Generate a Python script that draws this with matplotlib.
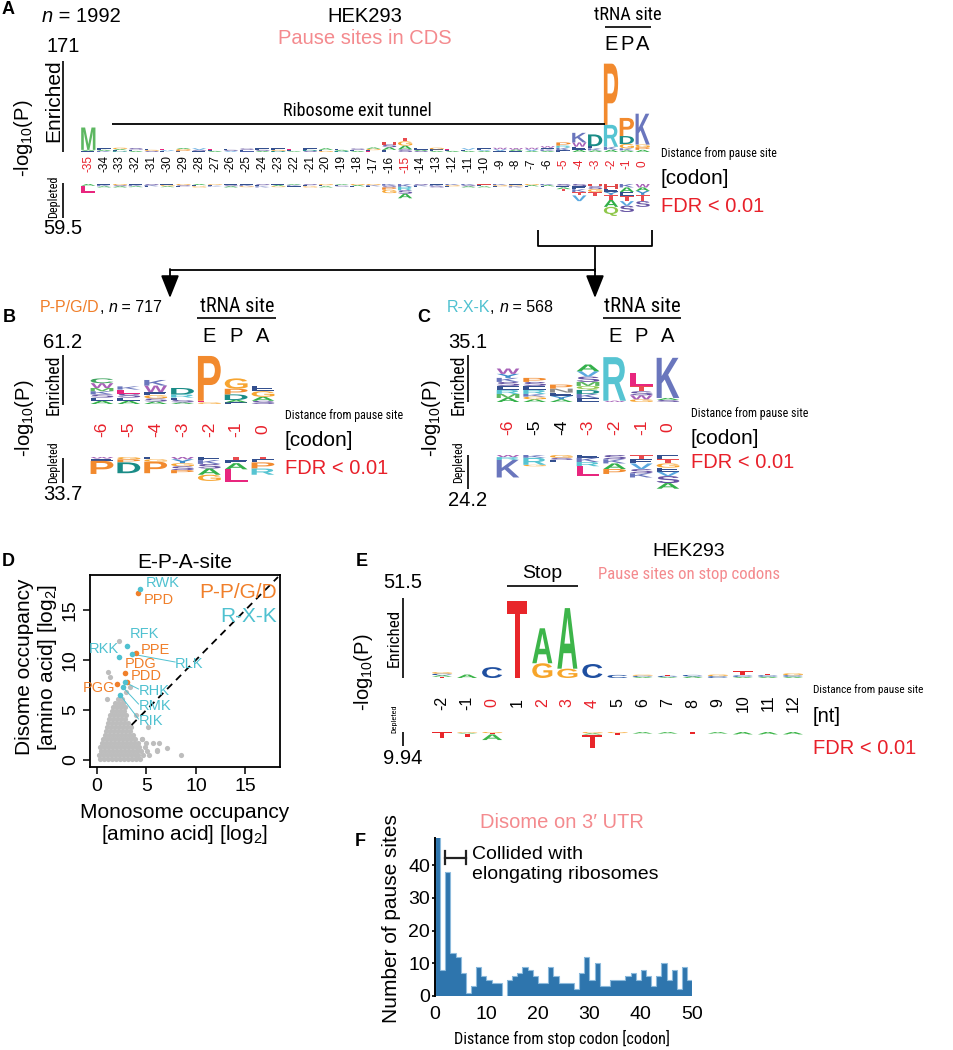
import matplotlib
matplotlib.use('Agg')
import numpy as np
import matplotlib.pyplot as plt
from matplotlib.textpath import TextPath
from matplotlib.patches import PathPatch
from matplotlib.font_manager import FontProperties, fontManager
from matplotlib.transforms import Affine2D, blended_transform_factory

# ======================= DATA =======================
# ---- Panel A : pause sites in CDS (positions -35..0) ----
A_POS = list(range(-35, 1))
A_ENR_LET = ["MAE", "EAK", "GAED", "SEA", "EGS", "LVE", "AGPE", "VSE", "LEA", "ESV", "SEI", "ESA",
             "EGD", "LEA", "EDS", "AEG", "EAD", "SEA", "AGEL", "HSAE", "TGAS", "EAS", "GEA", "LEA",
             "VEA", "EVA", "WVE", "WAE", "WVA", "WEKA", "PRKE", "KWEA", "DEKA", "PRKA", "PDGKA", "KGPA"]
A_ENR_H = [[42, 2, 2], [3, 2, 2], [2.5, 2, 2, 1.5], [3, 2.5, 2], [2.5, 2, 2], [2.5, 2, 1.5],
           [2, 2, 2, 1.5], [3, 2, 2], [2, 2, 2], [2.5, 2, 2], [2.5, 2, 2], [3, 2, 2], [3, 2, 2],
           [2, 2, 1.5], [3, 2, 2], [3, 2, 2], [2, 2, 2], [2.5, 2, 2], [2.5, 2.5, 2, 1.5], [5, 5, 5, 4],
           [7, 8, 7, 5], [3, 2.5, 2], [3, 3, 2], [2.5, 2, 2], [3, 2, 2], [3, 2, 2], [3, 3, 2],
           [3, 2.5, 2], [3, 3, 2], [3, 3, 3, 2], [6, 4, 5, 3], [18, 8, 6, 4], [22, 4, 4, 3],
           [115, 41, 6, 4], [34, 15, 8, 4, 3], [58, 5, 5, 4]]
A_DEP_LET = ["AL", "EKA", "GSA", "EKA", "SKE", "EGA", "GSE", "AEG", "GEK", "ESA", "EKG", "SEK",
             "EAG", "AKE", "SEG", "GEA", "AES", "GAE", "GKE", "KSPG", "KRSA", "SKE", "EKS", "KGE",
             "KSA", "HEA", "KGE", "EGK", "GAE", "KAE", "SEAT", "SEKTV", "HSGT", "HEYTAQ", "KAETVS", "WAYTS"]
A_DEP_H = [[3, 12], [2, 2, 2], [2, 2, 2], [2, 2, 1.5], [2, 2, 2], [2, 2, 1.5], [2, 2, 2], [2, 2, 2],
           [1.5, 1.5, 1.5], [2, 2, 2], [2, 2, 1.5], [2, 2, 2], [2, 2, 1.5], [1.5, 1.5, 1.5], [2, 2, 2],
           [2, 2, 2], [1.5, 1.5, 1.5], [2, 2, 1.5], [2, 2, 2], [3, 3, 4, 6], [5, 6, 6, 8], [2, 2, 2],
           [2, 2, 2], [2, 2, 1.5], [2, 2, 2], [2, 2, 2], [2, 2, 1.5], [2, 2, 2], [2, 2, 2], [2, 2, 2],
           [3, 3, 3, 3], [4, 5, 5, 6, 10], [4, 5, 5, 7], [8, 6, 5, 9, 12, 16], [6, 8, 7, 9, 8, 11],
           [6, 6, 7, 11, 10]]
A_RED_TICKS = [-35, -15, -5, -4, -3, -2, -1, 0]
A_YMAX, A_YMIN = 171, 59.5

# ---- Panel B : P-P/G/D ----
B_POS = list(range(-6, 1))
B_ENR_LET = ["CWMKSEA", "KLSEA", "KWEGSA", "DRESA", "PLG", "GPDAE", "EGAS"]
B_ENR_H = [[6, 6, 4, 4, 4, 4, 4], [4, 5, 5, 4, 4], [7, 8, 4, 4, 4, 3], [8, 4, 3, 3, 2], [56, 2, 2],
           [13, 7, 7, 3, 2], [7, 7, 5, 4]]
B_DEP_LET = ["WEP", "GPD", "EGP", "WYGSP", "EKSAG", "TEAL", "TEPR"]
B_DEP_H = [[2, 3, 17], [3, 4, 14], [3, 3, 15], [3, 5, 4, 5, 4], [4, 5, 6, 8, 8], [4, 4, 8, 17], [3, 4, 8, 8]]
B_RED_TICKS = [-6, -5, -4, -3, -2, -1, 0]
B_YMAX, B_YMIN = 61.2, 33.7

# ---- Panel C : R-X-K ----
C_POS = list(range(-6, 1))
C_ENR_LET = ["WYKSERMA", "PSERKGA", "PNEYA", "AVSMQDKE", "RW", "LTSWG", "KAS"]
C_ENR_H = [[4, 3, 3, 3, 3, 3, 3, 3], [3, 3, 3, 3, 2, 2, 2], [3, 3, 2.5, 2.5, 2], [5, 4, 4, 3, 3, 3, 3, 3],
           [32.5, 1], [10, 4, 3, 3, 2], [30, 1.5, 1.5]]
C_DEP_LET = ["WRK", "KRG", "GSE", "EKRL", "SKAP", "TEVSK", "ETGEVSA"]
C_DEP_H = [[1.5, 2, 12.5], [2, 5, 1], [2, 1.5, 1.5], [2, 3, 3, 7], [3, 3, 4, 3.5], [3, 3, 4, 3, 3],
           [3, 3, 3, 3, 3, 5, 4]]
C_RED_TICKS = [-6, -3, -2, -1, 0]
C_YMAX, C_YMIN = 35.1, 24.2

# ---- Panel D : E-P-A-site occupancy ----
GRAY_ROW_Y = [0.1, 0.5, 0.9, 1.3, 1.7, 2.1, 2.5, 2.9, 3.3, 3.7, 4.1, 4.5, 4.9, 5.3, 5.7, 6.1]
GRAY_ROW_X = [
    [0.3, 0.7, 1.1, 1.5, 1.9, 2.3, 2.7, 3.1, 3.5, 3.9, 4.4],
    [0.2, 0.6, 1.0, 1.4, 1.8, 2.2, 2.6, 3.0, 3.4, 3.8, 4.2, 4.7, 5.3],
    [0.4, 0.8, 1.2, 1.6, 2.0, 2.4, 2.8, 3.2, 3.6, 4.0, 4.5, 5.1, 6.1],
    [0.3, 0.7, 1.1, 1.5, 1.9, 2.3, 2.7, 3.1, 3.5, 3.9, 4.3, 4.9],
    [0.5, 0.9, 1.3, 1.7, 2.1, 2.5, 2.9, 3.3, 3.7, 4.2, 5.0, 5.7, 6.3],
    [0.6, 1.0, 1.4, 1.8, 2.2, 2.6, 3.0, 3.4, 3.8, 4.6],
    [0.8, 1.2, 1.6, 2.0, 2.4, 2.8, 3.2, 3.6],
    [0.9, 1.3, 1.7, 2.1, 2.5, 2.9, 3.3],
    [1.0, 1.4, 1.8, 2.2, 2.6, 3.0, 3.4, 5.2],
    [1.1, 1.5, 1.9, 2.3, 2.7, 3.1],
    [1.2, 1.6, 2.0, 2.4, 2.8],
    [1.3, 1.7, 2.1, 2.5, 2.9, 3.9],
    [1.5, 1.9, 2.3, 2.7],
    [1.6, 2.0, 2.4, 2.8],
    [1.8, 2.2, 2.6],
    [1.0, 2.1, 2.5],
]
GRAY_OUT_X = [2.2, 1.15, 1.3, 3.3, 7.1, 8.5, 6.1, 4.6, 2.9]
GRAY_OUT_Y = [11.9, 8.8, 8.3, 7.3, 1.2, 0.5, 1.0, 2.1, 6.8]
PGD_NAMES = ["PPD", "PPE", "PDG", "PDD", "PGG"]
PGD_MONO = [4.2, 3.9, 2.8, 3.0, 2.0]
PGD_DI = [16.7, 10.7, 8.7, 7.8, 7.6]
RXK_NAMES = ["RWK", "RFK", "RLK", "RKK", "RHK", "RMK", "RIK"]
RXK_MONO = [4.4, 3.0, 3.5, 2.2, 2.8, 2.6, 2.35]
RXK_DI = [17.1, 11.4, 10.6, 10.3, 7.8, 7.3, 6.5]
DIAG = [3.5, 18.3]

# ---- Panel E : stop codons (nt positions -2..12) ----
E_POS = list(range(-2, 13))
E_ENR_LET = ["GCAT", "A", "C", "T", "AG", "AG", "C", "C", "GCA", "TCA", "CA", "GC", "TCA", "TCA", "GCA"]
E_ENR_H = [[1, 1, 1, 0.8], [2.2], [7], [49.5], [22.5, 9.5], [39, 6], [9], [2], [0.7, 0.7, 0.7],
           [0.8, 0.8, 0.6], [1, 1], [1, 1.2], [2.5, 1, 0.7], [1, 1, 0.8], [1.2, 1, 0.8]]
E_DEP_LET = ["T", "GAT", "GTA", "", "", "", "GAT", "GT", "A", "A", "T", "A", "A", "A", "A"]
E_DEP_H = [[3.8], [0.5, 0.5, 2], [0.7, 0.8, 3.5], [], [], [], [0.8, 0.8, 8.3], [0.7, 1.3], [1], [1],
           [1.2], [1], [1.5], [1.5], [1.5]]
E_RED_TICKS = [0, 2, 3, 4]
E_YMAX, E_YMIN = 51.5, 9.94

# ---- Panel F : disome on 3' UTR ----
F_COUNTS = [58, 8, 38, 13, 12, 7, 1, 3, 9, 6, 5, 4, 4, 0, 5, 6, 7, 9, 8, 6, 4, 4, 9, 6, 4, 4, 4, 2, 7, 12,
            5, 10, 3, 3, 5, 5, 5, 6, 7, 5, 8, 6, 3, 6, 10, 5, 8, 2, 9, 5]
F_EDGES = list(range(0, 51))

# ======================= STYLE =======================
W, H = 954, 1050
entries = [(f.name, str(f.stretch)) for f in fontManager.ttflist]
names = {n for n, _ in entries}
SANS = 'Liberation Sans' if 'Liberation Sans' in names else 'DejaVu Sans'

COND_FAM, COND_STRETCH = SANS, 'normal'
_pref = ['Liberation Sans Narrow', 'Roboto Condensed', 'Noto Sans Condensed', 'Open Sans Condensed',
         'Noto Sans ExtraCondensed', 'DejaVu Sans Condensed']
_found = False
for p in _pref:
    if p in names:
        COND_FAM, COND_STRETCH, _found = p, 'normal', True
        break
if not _found:
    for fam in ['Roboto', 'Open Sans', 'Noto Sans', 'Liberation Sans', 'DejaVu Sans']:
        sts = [s for n, s in entries if n == fam]
        hit = [s for s in sts if 'condensed' in s.lower() or (s.isdigit() and int(s) < 500)]
        if hit:
            COND_FAM, COND_STRETCH, _found = fam, hit[0], True
            break
if not _found:
    for n in sorted(names):
        if 'Narrow' in n or 'Condensed' in n:
            COND_FAM, COND_STRETCH = n, 'normal'
            break

plt.rcParams['font.family'] = [SANS, 'DejaVu Sans']
plt.rcParams['mathtext.fontset'] = 'custom'
plt.rcParams['mathtext.rm'] = SANS
plt.rcParams['mathtext.it'] = SANS + ':italic'
plt.rcParams['mathtext.default'] = 'regular'

RED = '#E8202A'
PINK = '#F48A8E'
ORANGE = '#F07F2A'
CYAN = '#4FC1D0'
AA_COL = {'A': '#33B04A', 'R': '#56C4D2', 'N': '#8C8C8C', 'D': '#1A8C87', 'C': '#3DA35D',
          'Q': '#8FC74A', 'E': '#34508F', 'G': '#F7A531', 'H': '#E04848', 'I': '#4A5FA8',
          'L': '#E8267E', 'K': '#6A76BD', 'M': '#5DB761', 'F': '#2B2B2B', 'P': '#F28A2E',
          'S': '#6452A2', 'T': '#E94B4F', 'W': '#A861B8', 'Y': '#3D8BC9', 'V': '#5AA8E0'}
NT_COL = {'A': '#3DB54A', 'C': '#1F4FA0', 'G': '#F7A52A', 'T': '#E8262A'}

fig = plt.figure(figsize=(W / 100, H / 100), dpi=100)
renderer = fig.canvas.get_renderer()


def px_axes(x0, y0, x1, y1):
    return fig.add_axes([x0 / W, 1 - y1 / H, (x1 - x0) / W, (y1 - y0) / H])


LETTER_FP = FontProperties(family=SANS, weight='bold')
_cache = {}


def glyph(ch):
    if ch not in _cache:
        tp = TextPath((0, 0), ch, size=1, prop=LETTER_FP)
        _cache[ch] = (tp, tp.get_extents())
    return _cache[ch]


def draw_letter(ax, ch, x, y0, h, width, color):
    tp, bb = glyph(ch)
    tr = (Affine2D().translate(-bb.x0, -bb.y0).scale(width / bb.width, h / bb.height)
          .translate(x - width / 2, y0) + ax.transData)
    ax.add_patch(PathPatch(tp, transform=tr, fc=color, ec='none', lw=0))


def draw_logo(ax, positions, letters, heights, colors, width, up):
    for x, lets, hs in zip(positions, letters, heights):
        y = 0.0
        if up:
            for ch, h in zip(reversed(lets), reversed(hs)):
                draw_letter(ax, ch, x, y, h, width, colors[ch])
                y += h
        else:
            for ch, h in zip(lets, hs):
                draw_letter(ax, ch, x, y - h, h, width, colors[ch])
                y -= h


def logo_pair(pos, x0, x1, ey0, ey1, dy0, dy1, ymax, ymin, enr_l, enr_h, dep_l, dep_h, cols, width):
    ae = px_axes(x0, ey0, x1, ey1)
    ad = px_axes(x0, dy0, x1, dy1)
    for a in (ae, ad):
        a.set_xlim(pos[0] - 0.5, pos[-1] + 0.5)
        a.axis('off')
    ae.set_ylim(0, ymax)
    ad.set_ylim(-ymin, 0)
    draw_logo(ae, pos, enr_l, enr_h, cols, width, True)
    draw_logo(ad, pos, dep_l, dep_h, cols, width, False)
    return ae, ad


# overlay in pixel coordinates
ov = fig.add_axes([0, 0, 1, 1])
ov.set_xlim(0, W)
ov.set_ylim(H, 0)
ov.axis('off')
ov.set_zorder(5)


def T(x, y, s, size, ha='center', va='center', **kw):
    return ov.text(x, y, s, fontsize=size, ha=ha, va=va, **kw)


def CT(x, y, s, target, maxsize, ha='center', va='center', rotation=0, **kw):
    """condensed text, fitted to the width it has in the reference"""
    t = ov.text(x, y, s, fontsize=10, ha=ha, va=va, rotation=rotation, family=[COND_FAM, SANS],
                fontstretch=COND_STRETCH, **kw)
    bb = t.get_window_extent(renderer)
    w = bb.height if rotation == 90 else bb.width
    t.set_fontsize(min(maxsize, 10 * target / w))
    return t


def seq_text(x, y, parts, size):
    for s, kw in parts:
        t = ov.text(x, y, s, fontsize=size, ha='left', va='center', **kw)
        x += t.get_window_extent(renderer).width


def L(xs, ys, lw=1.3, color='black'):
    ov.plot(xs, ys, color=color, lw=lw, solid_capstyle='butt')


def ticks_for(ax, pos, y, red, size):
    tr = blended_transform_factory(ax.transData, ov.transData)
    for p in pos:
        ov.text(p, y, str(p), transform=tr, rotation=90, ha='center', va='center', fontsize=size,
                color=RED if p in red else 'black')


def side_axis(x_line, ey0, ey1, dy0, dy1, top_lbl, bot_lbl, top_y, bot_y, logp_x, logp_y,
              enr_y, enr_w, enr_narrow, dep_y, dep_w):
    L([x_line, x_line], [ey0, ey1], lw=1.2)
    L([x_line, x_line], [dy0, dy1], lw=1.2)
    T(x_line, top_y, top_lbl, 14.5)
    T(x_line, bot_y, bot_lbl, 14.5)
    T(logp_x, logp_y, r'-log$_{10}$(P)', 14.5, rotation=90)
    if enr_narrow:
        CT(x_line - 9, enr_y, 'Enriched', enr_w, 13.5, rotation=90)
    else:
        T(x_line - 9, enr_y, 'Enriched', 15, rotation=90)
    CT(x_line - 9, dep_y, 'Depleted', dep_w, 10, rotation=90)


# ======================= PANEL A =======================
aeA, adA = logo_pair(A_POS, 80.4, 650.6, 61, 152, 184, 218, A_YMAX, A_YMIN,
                     A_ENR_LET, A_ENR_H, A_DEP_LET, A_DEP_H, AA_COL, 0.9)
ticks_for(aeA, A_POS, 164, A_RED_TICKS, 8.5)
T(8, 9, 'A', 13, weight='bold')
seq_text(42, 16, [('n', dict(style='italic')), (' = 1992', {})], 14.5)
T(365, 16, 'HEK293', 14.5)
T(365, 38, 'Pause sites in CDS', 14.5, color=PINK)
CT(628, 15, 'tRNA site', 67, 14)
L([605, 651], [27, 27], lw=1.2)
for p, s in zip([-2, -1, 0], 'EPA'):
    ov.text(p, 44, s, transform=blended_transform_factory(aeA.transData, ov.transData),
            ha='center', va='center', fontsize=14.5)
side_axis(63, 61, 152, 183, 218, '171', '59.5', 47, 229, 24, 138, 101, 82, False, 197, 42)
CT(357, 111, 'Ribosome exit tunnel', 148, 14)
L([112, 605], [124, 124], lw=1.3)
CT(661, 153, 'Distance from pause site', 115, 13, ha='left')
T(661, 179, '[codon]', 15, ha='left')
T(661, 207, 'FDR < 0.01', 14.5, ha='left', color=RED)

# connectors
L([538, 538, 652, 652], [230, 246, 246, 230])
L([595, 595], [246, 272])
L([170, 595], [270, 270])
for xa in (170, 595):
    ov.annotate('', xy=(xa, 298), xytext=(xa, 269),
                arrowprops=dict(arrowstyle='-|>,head_width=0.4,head_length=1.0', color='black',
                                lw=1.3, shrinkA=0, shrinkB=0, mutation_scale=14))

# ======================= PANEL B =======================
aeB, adB = logo_pair(B_POS, 88.6, 276.4, 355, 404, 457, 483, B_YMAX, B_YMIN,
                     B_ENR_LET, B_ENR_H, B_DEP_LET, B_DEP_H, AA_COL, 0.85)
ticks_for(aeB, B_POS, 429, B_RED_TICKS, 12.5)
T(9, 317, 'B', 13, weight='bold')
seq_text(40, 307, [('P-P/G/D', dict(color=ORANGE)), (', ', {}), ('n', dict(style='italic')),
                   (' = 717', {})], 11.5)
CT(237, 306, 'tRNA site', 73, 15)
L([197, 276], [318, 318], lw=1.2)
for p, s in zip([-2, -1, 0], 'EPA'):
    ov.text(p, 336, s, transform=blended_transform_factory(aeB.transData, ov.transData),
            ha='center', va='center', fontsize=14.5)
side_axis(63, 355, 405, 458, 483, '61.2', '33.7', 343, 495, 25, 418, 385, 60, True, 462, 41)
CT(285, 415, 'Distance from pause site', 117, 13, ha='left')
T(285, 440, '[codon]', 15, ha='left')
T(285, 468, 'FDR < 0.01', 14.5, ha='left', color=RED)

# ======================= PANEL C =======================
aeC, adC = logo_pair(C_POS, 494.7, 681.3, 355, 402, 455, 489, C_YMAX, C_YMIN,
                     C_ENR_LET, C_ENR_H, C_DEP_LET, C_DEP_H, AA_COL, 0.85)
ticks_for(aeC, C_POS, 427, C_RED_TICKS, 12.5)
T(424, 317, 'C', 13, weight='bold')
seq_text(447, 307, [('R-X-K', dict(color=CYAN)), (', ', {}), ('n', dict(style='italic')),
                    (' = 568', {})], 11.5)
CT(642, 306, 'tRNA site', 76, 15)
L([603, 681], [318, 318], lw=1.2)
for p, s in zip([-2, -1, 0], 'EPA'):
    ov.text(p, 336, s, transform=blended_transform_factory(aeC.transData, ov.transData),
            ha='center', va='center', fontsize=14.5)
side_axis(468, 355, 402, 455, 489, '35.1', '24.2', 343, 500, 432, 418, 385, 60, True, 462, 41)
CT(691, 414, 'Distance from pause site', 116, 13, ha='left')
T(691, 439, '[codon]', 15, ha='left')
T(691, 463, 'FDR < 0.01', 14.5, ha='left', color=RED)

# ======================= PANEL D =======================
axD = px_axes(90, 575, 280, 767)
gx, gy = [], []
for yv, row in zip(GRAY_ROW_Y, GRAY_ROW_X):
    for xv in row:
        gx.append(xv)
        gy.append(yv)
gx += GRAY_OUT_X
gy += GRAY_OUT_Y
axD.scatter(gx, gy, s=14, color='#BDBDBD', lw=0, zorder=2)
axD.plot(DIAG, DIAG, color='black', lw=1.3, ls=(0, (4, 3)), zorder=3)
axD.scatter(PGD_MONO, PGD_DI, s=16, color=ORANGE, lw=0, zorder=4)
axD.scatter(RXK_MONO, RXK_DI, s=16, color=CYAN, lw=0, zorder=4)
lab_pos = {'RWK': (4.9, 17.7, 'left'), 'PPD': (4.7, 16.0, 'left'), 'RFK': (3.3, 12.6, 'left'),
           'RKK': (2.25, 11.1, 'right'), 'PPE': (4.4, 11.0, 'left'), 'RLK': (7.9, 9.6, 'left'),
           'PDG': (2.8, 9.6, 'left'), 'PDD': (3.4, 8.4, 'left'), 'PGG': (1.9, 7.2, 'right'),
           'RHK': (4.2, 6.9, 'left'), 'RMK': (4.2, 5.4, 'left'), 'RIK': (4.2, 3.9, 'left')}
for names_, col, mx, dy in ((PGD_NAMES, ORANGE, PGD_MONO, PGD_DI), (RXK_NAMES, CYAN, RXK_MONO, RXK_DI)):
    for nm, xv, yv in zip(names_, mx, dy):
        tx, ty, ha = lab_pos[nm]
        axD.text(tx, ty, nm, color=col, fontsize=10.5, ha=ha, va='center', zorder=5)
        if nm in ('RLK', 'RHK', 'RMK', 'RIK'):
            axD.plot([xv, tx], [yv, ty + 0.2], color=col, lw=0.7, zorder=3)
axD.text(18.2, 16.8, 'P-P/G/D', color=ORANGE, fontsize=15, ha='right', va='center')
axD.text(18.2, 14.3, 'R-X-K', color=CYAN, fontsize=15, ha='right', va='center')
axD.set_xlim(-0.7, 18.5)
axD.set_ylim(-0.7, 18.5)
axD.set_xticks([0, 5, 10, 15])
axD.set_yticks([0, 5, 10, 15])
axD.tick_params(direction='out', length=5, width=1.1, labelsize=14, pad=3)
for lab in axD.get_yticklabels():
    lab.set_rotation(90)
    lab.set_va('center')
for sp in axD.spines.values():
    sp.set_linewidth(1.3)
T(8, 561, 'D', 13, weight='bold')
T(185, 563, 'E-P-A-site', 15)
T(25, 667, 'Disome occupancy', 15, rotation=90)
T(48, 667, r'[amino acid] [log$_2$]', 15, rotation=90)
T(185, 812, 'Monosome occupancy', 15)
T(185, 834, r'[amino acid] [log$_2$]', 15)

# ======================= PANEL E =======================
aeE, adE = logo_pair(E_POS, 429.5, 805.5, 598, 678, 732, 748, E_YMAX, E_YMIN,
                     E_ENR_LET, E_ENR_H, E_DEP_LET, E_DEP_H, NT_COL, 0.8)
ticks_for(aeE, E_POS, 703, E_RED_TICKS, 11.5)
T(362, 562, 'E', 13, weight='bold')
T(689, 552, 'HEK293', 14)
CT(689, 574, 'Pause sites on stop codons', 182, 13, color=PINK)
T(542, 574, 'Stop', 14)
L([507, 578], [586, 586], lw=1.2)
side_axis(403, 598, 678, 732, 746, '51.5', '9.94', 582, 758, 364, 672, 638, 58, True, 719, 28)
CT(813, 690, 'Distance from pause site', 110, 13, ha='left')
T(813, 716, '[nt]', 14.5, ha='left')
T(813, 748, 'FDR < 0.01', 14.5, ha='left', color=RED)

# ======================= PANEL F =======================
axF = px_axes(435, 838, 692.3, 996)
axF.stairs(F_COUNTS, F_EDGES, fill=True, color='#2E75AD', lw=0)
axF.stairs(F_COUNTS, F_EDGES, fill=False, color='#8DBBDD', lw=0.8)
axF.set_xlim(0, 50)
axF.set_ylim(0, 48.3)
axF.set_xticks([0, 10, 20, 30, 40, 50])
axF.set_yticks([0, 10, 20, 30, 40])
for s in ('top', 'right', 'bottom'):
    axF.spines[s].set_visible(False)
axF.spines['left'].set_linewidth(1.4)
axF.tick_params(axis='y', direction='out', length=2.5, width=1.2, labelsize=14, pad=1)
axF.tick_params(axis='x', length=0, labelsize=14, pad=7)
axF.plot([2, 6], [42.3, 42.3], color='#222222', lw=1.6, clip_on=False)
axF.plot([2, 2], [40.3, 44.3], color='#222222', lw=1.6, clip_on=False)
axF.plot([6, 6], [40.3, 44.3], color='#222222', lw=1.6, clip_on=False)
axF.text(7.2, 43.2, 'Collided with', fontsize=14, ha='left', va='center', clip_on=False)
axF.text(7.2, 37.0, 'elongating ribosomes', fontsize=14, ha='left', va='center', clip_on=False)
T(360, 841, 'F', 13, weight='bold')
T(562, 823, 'Disome on 3\u2032 UTR', 14.5, color=PINK)
T(392, 919, 'Number of pause sites', 15, rotation=90)
CT(562, 1038, 'Distance from stop codon [codon]', 215, 12.5)

fig.savefig('out.png', dpi=100)
